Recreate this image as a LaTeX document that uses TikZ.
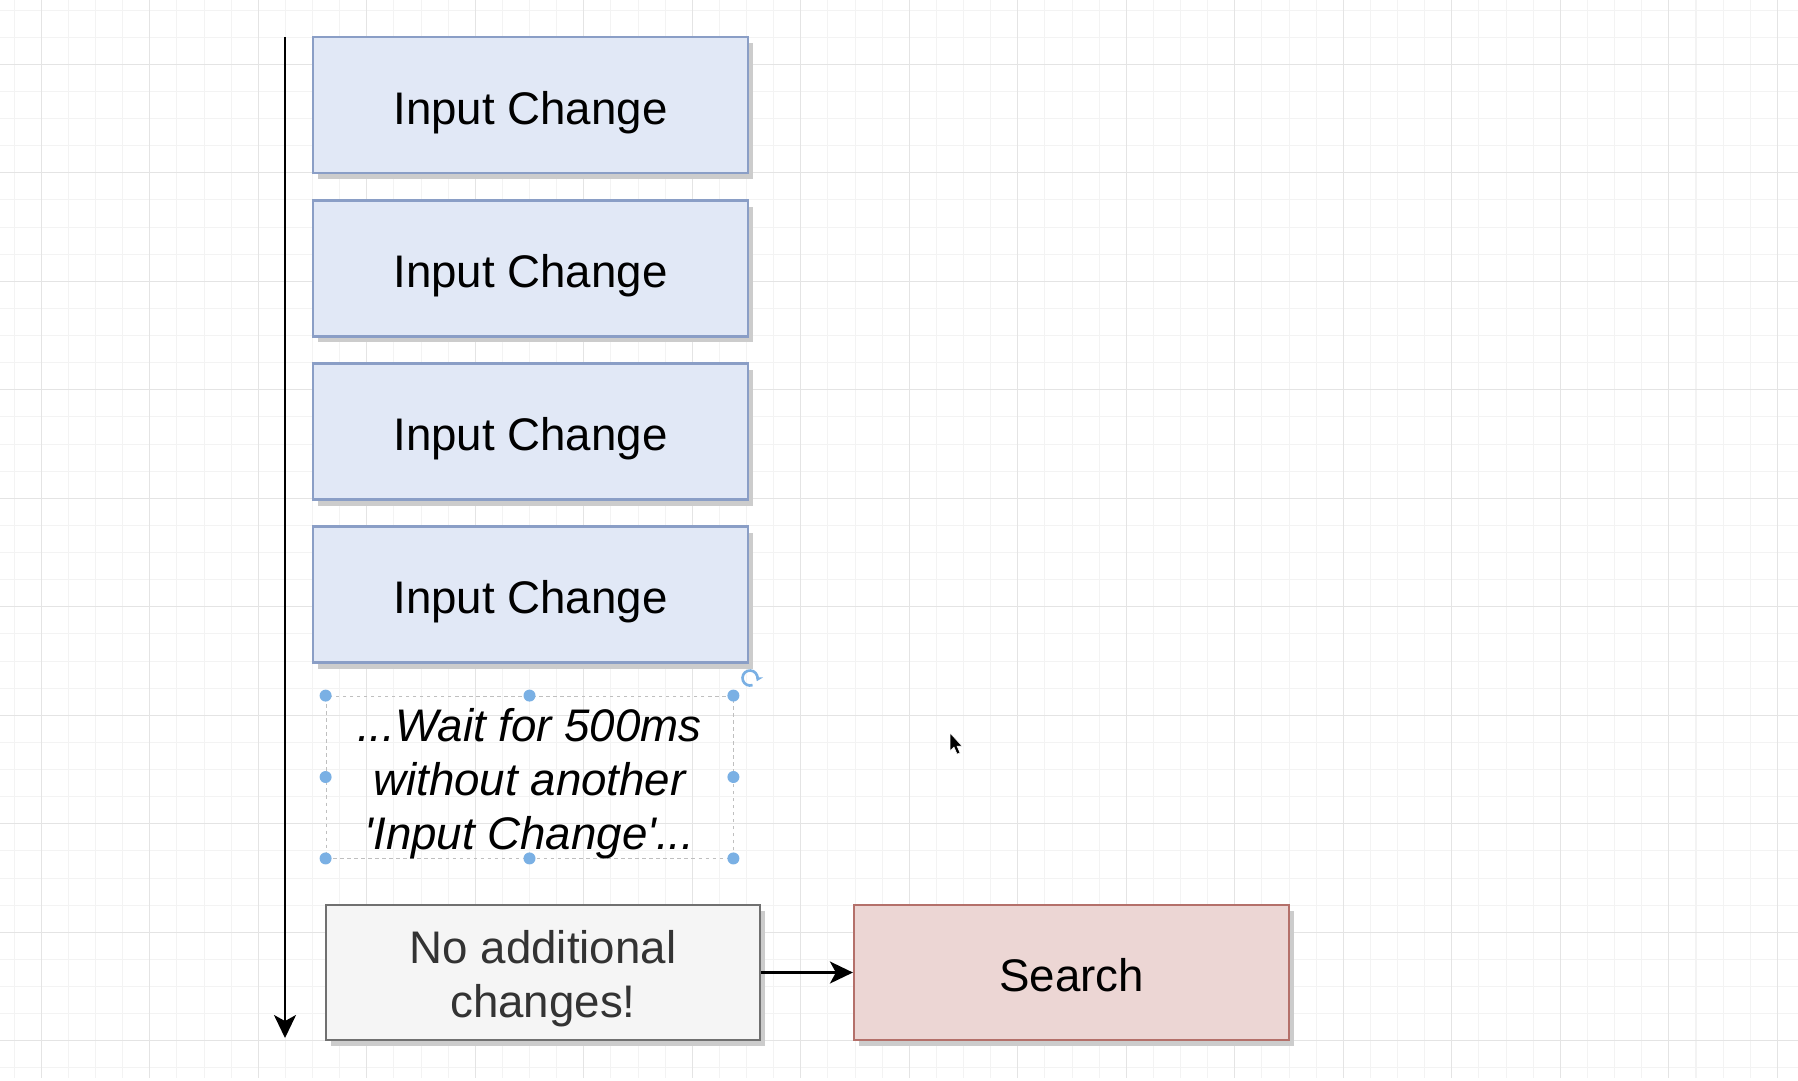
\documentclass[tikz,border=0pt]{standalone}
\usepackage{fontspec}
\setmainfont{Liberation Sans}
\usetikzlibrary{arrows.meta,shadows}

\definecolor{minorgrid}{RGB}{243,243,243}
\definecolor{majorgrid}{RGB}{228,228,228}
\definecolor{changefill}{RGB}{225,232,246}
\definecolor{changeline}{RGB}{138,158,198}
\definecolor{searchfill}{RGB}{236,214,212}
\definecolor{searchline}{RGB}{180,112,106}
\definecolor{nofill}{RGB}{245,245,245}
\definecolor{noline}{RGB}{112,112,112}
\definecolor{notext}{RGB}{51,51,51}
\definecolor{handleblue}{RGB}{122,176,228}

\tikzset{
  boxshadow/.style={drop shadow={shadow xshift=0.1cm, shadow yshift=-0.12cm, fill=black!20, opacity=1}},
  changebox/.style={draw=changeline, fill=changefill, line width=1.3pt,
    minimum width=8.7cm, minimum height=2.72cm, inner sep=0pt,
    text height=22pt, text depth=0pt,
    font=\fontsize{26}{31}\selectfont, boxshadow},
  boxtext/.style={align=center, inner sep=0pt, font=\fontsize{26}{30.7}\selectfont},
  flowarrow/.style={line width=1.3pt, -{Stealth[length=0.46cm, width=0.44cm, inset=0.12cm]}},
  handle/.style={fill=handleblue},
}

\begin{document}
\begin{tikzpicture}[x=0.02cm, y=-0.02cm]
  \useasboundingbox (0,0) rectangle (1798,1080);
  \fill[white] (0,0) rectangle (1798,1080);

  % background grid
  \foreach \i in {0,...,66}
    \draw[minorgrid, line width=0.6pt] ({14.2+27.125*\i},0) -- ({14.2+27.125*\i},1078);
  \foreach \i in {0,...,39}
    \draw[minorgrid, line width=0.6pt] (0,{10.05+27.125*\i}) -- (1798,{10.05+27.125*\i});
  \foreach \i in {0,...,16}
    \draw[majorgrid, line width=0.7pt] ({41.3+108.5*\i},0) -- ({41.3+108.5*\i},1078);
  \foreach \i in {0,...,9}
    \draw[majorgrid, line width=0.7pt] (0,{64.3+108.5*\i}) -- (1798,{64.3+108.5*\i});

  % time axis
  \coordinate (tstart) at (285,37);
  \coordinate (tend) at (285,1038);
  \draw[flowarrow] (tstart) -- (tend);

  % input changes
  \node[changebox] (change1) at (530.5,105) {Input Change};
  \node[changebox] (change2) at (530.5,268.5) {Input Change};
  \node[changebox] (change3) at (530.5,431.5) {Input Change};
  \node[changebox] (change4) at (530.5,594.5) {Input Change};

  % selected text
  \node[draw=black!25, dash pattern=on 2pt off 2pt, line width=0.5pt,
    minimum width=8.14cm, minimum height=3.24cm, inner sep=0pt] (wait) at (529.5,777) {};
  \node[boxtext, font=\fontsize{26}{30.7}\selectfont\itshape] (waittext) at (529.5,784)
    {...Wait for 500ms\\without another\\\textquotesingle Input Change\textquotesingle...};
  \foreach \a in {north west, north, north east, east, south east, south, south west, west}
    \fill[handle] (wait.\a) circle [radius=0.12cm];
  % rotation handle
  \draw[handleblue, line width=1.5pt, -{Stealth[length=0.12cm, width=0.16cm]}]
    (750,678) ++(70:7.5) arc [start angle=70, end angle=385, radius=7.5];

  % result
  \node[changebox, draw=noline, fill=nofill,
    minimum width=8.68cm, minimum height=2.7cm] (noadd) at (543,972.5) {};
  \node[boxtext, text=notext] (noaddtext) at (543,979) {No additional\\changes!};
  \node[changebox, draw=searchline, fill=searchfill,
    minimum height=2.7cm] (search) at (1071.5,972.5) {Search};
  \draw[flowarrow] (noadd) -- (search);

  % mouse pointer
  \fill[black, draw=white, line width=0.3pt] (950,733) -- (950,751) -- (954,747) -- (957,754)
    -- (960,753) -- (957,746) -- (962,746) -- cycle;
\end{tikzpicture}
\end{document}
